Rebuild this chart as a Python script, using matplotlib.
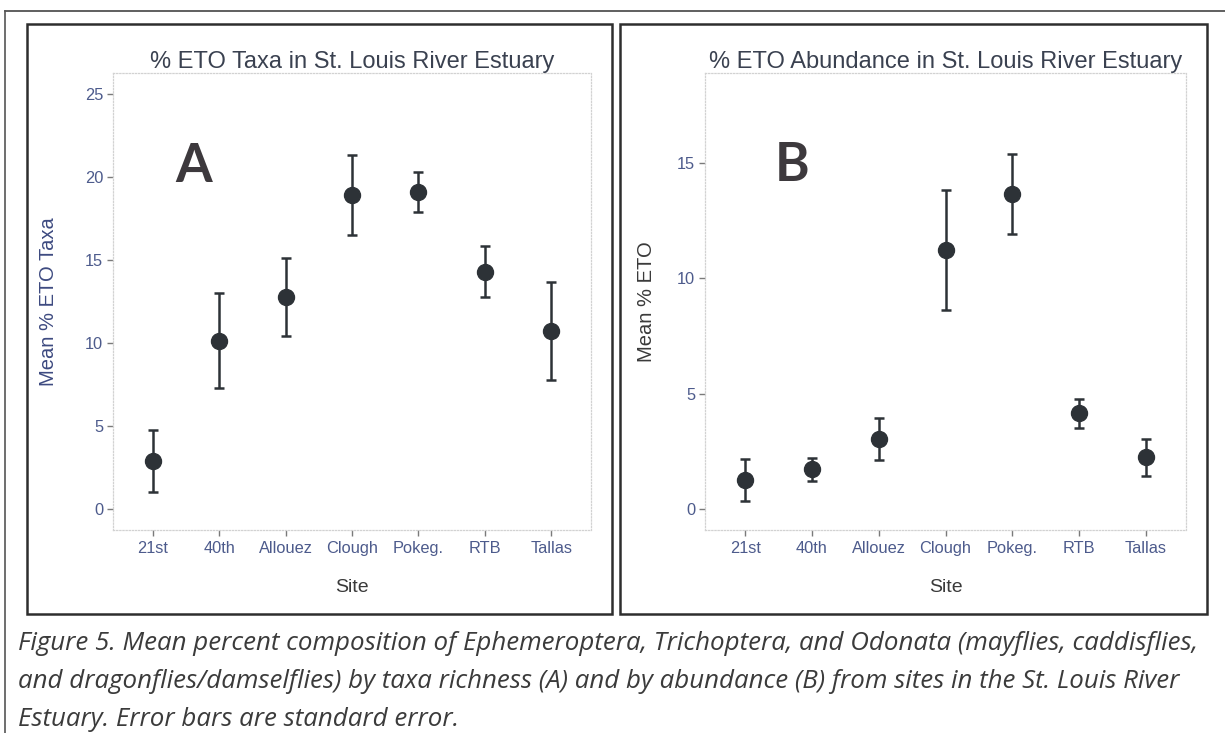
import matplotlib
matplotlib.use("Agg")
import matplotlib.pyplot as plt
from matplotlib.patches import Rectangle
from matplotlib.lines import Line2D
import numpy as np

# Sites sampled in the St. Louis River Estuary
sites = ["21st", "40th", "Allouez", "Clough", "Pokeg.", "RTB", "Tallas"]

# Mean % ETO taxa richness and standard error per site
taxa_mean = [2.9, 10.15, 12.75, 18.9, 19.1, 14.3, 10.7]
taxa_se = [1.85, 2.85, 2.35, 2.4, 1.2, 1.55, 2.95]

# Mean % ETO abundance and standard error per site
abund_mean = [1.27, 1.73, 3.05, 11.25, 13.66, 4.15, 2.25]
abund_se = [0.9, 0.5, 0.9, 2.6, 1.74, 0.63, 0.8]

taxa_ticks = [0, 5, 10, 15, 20, 25]
abund_ticks = [0, 5, 10, 15]

caption_lines = [
    "Figure 5. Mean percent composition of Ephemeroptera, Trichoptera, and Odonata (mayflies, caddisflies,",
    "and dragonflies/damselflies) by taxa richness (A) and by abundance (B) from sites in the St. Louis River",
    "Estuary. Error bars are standard error.",
]

plt.rcParams["font.family"] = ["Liberation Sans", "DejaVu Sans"]

W, H = 1225, 733
fig = plt.figure(figsize=(W / 100, H / 100), dpi=100)
fig.patch.set_facecolor("white")

TITLE_C = "#3a4150"
TICK_C = "#4d5b8c"
MARK_C = "#2d3237"
BOX_C = "#2e2e2e"


def fx(px):
    return px / W


def fy(py):
    return 1 - py / H


# outer frame lines (top and left)
fig.add_artist(Line2D([fx(5), fx(1225)], [fy(11), fy(11)], color="#444444", lw=1.2))
fig.add_artist(Line2D([fx(5), fx(5)], [fy(11), fy(733)], color="#555555", lw=1.2))

# panel frames
for x0, x1 in [(27, 612), (620, 1207)]:
    fig.add_artist(Rectangle((fx(x0), fy(614)), fx(x1 - x0), (614 - 24) / H,
                             fill=False, edgecolor=BOX_C, lw=1.8))


def panel(rect, means, ses, ymax, ticks, title, ylabel, ylab_color, ylab_x, letter, letter_xy):
    ax = fig.add_axes(rect)
    x = np.arange(len(sites))
    ax.errorbar(x, means, yerr=ses, fmt="none", ecolor=MARK_C, elinewidth=1.8,
                capsize=3.5, capthick=1.8, zorder=2)
    ax.plot(x, means, "o", color=MARK_C, markersize=11.5, zorder=3)
    pad = 0.05 * ymax
    ax.set_ylim(-pad, ymax + pad)
    ax.set_xlim(-0.6, len(sites) - 0.4)
    ax.set_xticks(x)
    ax.set_xticklabels(sites)
    ax.set_yticks(ticks)
    ax.tick_params(axis="both", colors="#7a7a7a", labelcolor=TICK_C, labelsize=11.8,
                   length=4, width=1)
    ax.tick_params(axis="x", pad=4)
    ax.tick_params(axis="y", pad=3)
    for s in ax.spines.values():
        s.set_color("#d2d2d2")
        s.set_linestyle((0, (1, 1.5)))
        s.set_linewidth(0.9)
    ax.set_title(title, fontsize=17, color=TITLE_C, pad=2)
    ax.set_xlabel("Site", fontsize=14, color="#3a3a3a", va="center")
    ax.xaxis.set_label_coords(0.5, -0.125)
    ax.set_ylabel(ylabel, fontsize=14.5, color=ylab_color, va="center")
    ax.yaxis.set_label_coords(ylab_x, 0.5)
    ax.text(letter_xy[0], letter_xy[1], letter, fontsize=38, fontweight="bold",
            family=["Lato", "DejaVu Sans"], color="#3d393d", ha="center", va="center")
    return ax


bottom = (H - 530) / H
height = (530 - 73) / H

panel([fx(113), bottom, fx(591 - 113), height], taxa_mean, taxa_se, 25, taxa_ticks,
      "% ETO Taxa in St. Louis River Estuary", "Mean % ETO Taxa", "#3d4a80", -0.134,
      "A", (0.62, 20.6))

panel([fx(705), bottom, fx(1186 - 705), height], abund_mean, abund_se, 18, abund_ticks,
      "% ETO Abundance in St. Louis River Estuary", "Mean % ETO", "#3a3a3a", -0.121,
      "B", (0.70, 14.9))

# figure caption
for i, line in enumerate(caption_lines):
    fig.text(fx(18), fy(643 + 38 * i), line, fontsize=18.6, style="italic",
             family=["Open Sans", "DejaVu Sans"], color="#3b3b3b", ha="left", va="center")

fig.savefig("out.png", dpi=100, facecolor="white")
